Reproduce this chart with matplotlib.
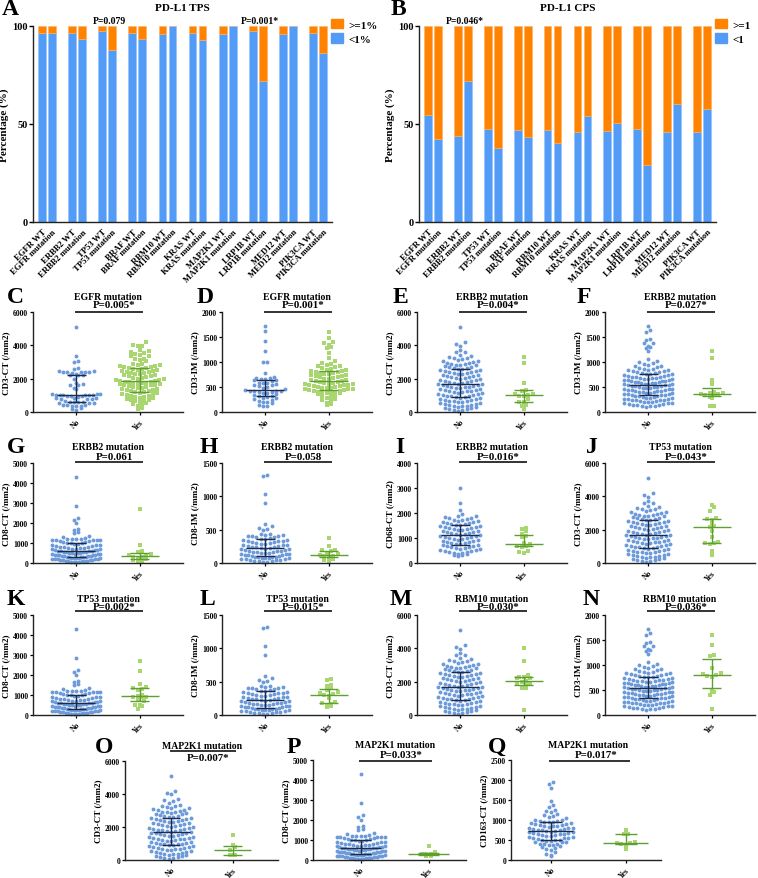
import numpy as np
import matplotlib
matplotlib.use('Agg')
import matplotlib.pyplot as plt
from matplotlib.patches import Patch
import matplotlib.transforms as mtrans

plt.rcParams['font.family'] = ['Liberation Serif', 'DejaVu Serif']
plt.rcParams['font.weight'] = 'bold'
plt.rcParams['axes.labelweight'] = 'bold'

# ---------------- data: stacked bars ----------------
genes = ['EGFR', 'ERBB2', 'TP53', 'BRAF', 'RBM10', 'KRAS', 'MAP2K1', 'LRP1B', 'MED12', 'PIK3CA']
states = ['WT', 'mutation']
bar_labels = [f'{g} {s}' for g in genes for s in states]
tps_below1 = [96.6, 96.3, 96.6, 93.5, 97.6, 87.9, 96.6, 93.5, 95.7, 100,
              96.6, 92.9, 96.1, 100, 97.6, 71.9, 96.1, 100, 96.6, 86.4]
cps_below1 = [54.4, 42.2, 43.7, 71.9, 47.6, 37.8, 46.8, 43.4, 47.1, 40.5,
              45.9, 54.1, 46.3, 50.3, 47.6, 28.9, 45.9, 60.4, 45.9, 57.5]

# ---------------- data: scatter groups ----------------
egfr_cd3ct_no = [5080, 3350, 3060, 3030, 2640, 2580, 2460, 2450, 2430, 2410, 2400, 2390, 2380, 2360,
                 2280, 2250, 2220, 2200, 1980, 1720, 1680, 1650, 1600, 1420, 1380, 1100, 1080, 1060,
                 1050, 1040, 1030, 1020, 1010, 1000, 980, 960, 940, 880, 860, 840, 820, 800, 780, 760,
                 640, 620, 610, 600, 580, 560, 540, 520, 440, 420, 400, 380, 360, 340, 220, 180, 150]
egfr_cd3ct_yes = [4180, 4040, 3990, 3950, 3700, 3640, 3590, 3560, 3470, 3430, 3380, 3350, 3210, 3180,
                  3120, 3080, 2900, 2870, 2840, 2810, 2790, 2760, 2730, 2700, 2660, 2630, 2600, 2570,
                  2540, 2510, 2480, 2450, 2420, 2380, 2350, 2320, 2290, 2260, 2230, 2200, 2170, 2140,
                  2110, 2060, 2030, 2000, 1970, 1940, 1910, 1880, 1850, 1820, 1790, 1780, 1760, 1740,
                  1720, 1700, 1680, 1660, 1640, 1620, 1600, 1560, 1530, 1500, 1470, 1440, 1410, 1380,
                  1350, 1320, 1270, 1240, 1210, 1180, 1150, 1120, 1090, 1060, 1000, 970, 940, 910,
                  880, 850, 820, 790, 730, 700, 670, 640, 610, 550, 480, 450, 390, 260, 170]
egfr_cd3im_no = [1720, 1630, 1430, 1220, 1010, 1000, 790, 700, 690, 680, 670, 660, 650, 640, 630,
                 590, 580, 575, 560, 550, 540, 520, 500, 480, 460, 440, 430, 425, 420, 415, 410,
                 400, 390, 380, 360, 340, 330, 320, 300, 290, 280, 260, 240, 220, 210, 200, 180,
                 150, 130, 120]
egfr_cd3im_yes = [1600, 1480, 1400, 1380, 1340, 1310, 1290, 1180, 1080, 1020, 990, 960, 950, 930,
                  920, 900, 880, 860, 850, 840, 830, 820, 810, 800, 790, 775, 765, 755, 745, 735,
                  725, 715, 705, 695, 680, 670, 660, 650, 640, 630, 620, 610, 600, 590, 578, 570,
                  562, 555, 548, 540, 532, 525, 518, 510, 498, 490, 482, 475, 468, 460, 452, 445,
                  438, 430, 418, 410, 402, 395, 388, 380, 372, 365, 350, 330, 310, 290, 265, 245,
                  225, 190, 160, 140]

cd3ct_no = [5100, 4180, 4060, 3990, 3700, 3620, 3580, 3430, 3360, 3290, 3270,
            3240, 3170, 3130, 3090, 3050, 3010,
            2960, 2930, 2900, 2880, 2850, 2830, 2810, 2780,
            2720, 2690, 2650, 2620, 2590, 2560, 2530, 2500, 2470, 2440,
            2410, 2380, 2350, 2320, 2290, 2260, 2230, 2200, 2170, 2140, 2110,
            2080, 2050, 2020, 1990, 1960, 1930, 1900, 1870, 1840, 1810, 1790,
            1770, 1740, 1710, 1690, 1660, 1640, 1610, 1590, 1560, 1530, 1510,
            1480, 1450, 1420, 1390, 1360, 1330, 1300, 1280, 1260, 1240, 1210,
            1180, 1150, 1120, 1090, 1060, 1030, 1000, 980, 960, 940, 910,
            880, 850, 820, 790, 760, 730, 700, 680, 660, 640, 610,
            580, 550, 520, 490, 460, 430, 400, 380, 360, 340, 310,
            280, 250, 220, 190, 160, 130, 110, 90]
cd3im_no = [1720, 1640, 1600, 1470, 1440, 1390, 1380, 1330, 1310, 1290, 1220, 1060, 1030, 1010, 990,
            960, 945, 930, 915, 900, 880, 870, 862, 850, 843, 832, 820, 812, 800,
            792, 784, 776, 768, 760, 752, 745, 738, 730,
            715, 708, 700, 694, 688, 680, 674, 668, 661, 655, 650, 645,
            635, 628, 621, 614, 608, 600, 594, 588, 582, 576, 570, 565, 560,
            552, 545, 538, 531, 524, 518, 511, 505, 498, 492, 486, 480, 475,
            466, 459, 452, 446, 440, 433, 426, 420, 414, 408, 402, 396, 390,
            380, 373, 366, 360, 354, 347, 340, 334, 328, 322, 316, 310,
            298, 290, 283, 276, 270, 263, 256, 250, 244, 238, 232,
            220, 212, 205, 198, 192, 186, 180, 174, 168, 160,
            150, 142, 135, 128, 120, 112, 105]
cd8ct_no = [4300, 2870, 2250, 2140, 1990, 1700, 1650, 1540, 1490, 1330, 1300, 1260,
            1220, 1200, 1190, 1180, 1170, 1160, 1150, 1140, 1130, 1120, 1110,
            1060, 1040, 1020, 1000, 980, 960, 940, 920, 900, 880, 860,
            830, 815, 800, 785, 770, 755, 740, 725, 710, 695, 680, 665, 650,
            630, 618, 606, 594, 582, 570, 558, 546, 534, 522, 510, 498, 486, 474,
            455, 444, 433, 422, 411, 400, 389, 378, 367, 356, 345, 334, 323, 312,
            298, 288, 278, 268, 258, 248, 238, 228, 218, 208, 198, 188, 178, 168,
            150, 140, 130, 120, 110, 100, 90, 80, 70, 60, 50, 40]
cd8im_no = [1320, 1300, 1030, 900, 590, 550, 520, 510, 500,
            440, 432, 425, 418, 410, 404, 398, 392, 386, 380,
            365, 358, 351, 344, 337, 330, 323, 316, 309, 302,
            295, 289, 283, 277, 271, 265, 259, 253, 247, 241, 235,
            228, 222, 216, 210, 204, 198, 192, 186, 180, 174, 168,
            163, 158, 153, 148, 143, 138, 133, 128, 123, 118, 113, 108,
            100, 96, 92, 88, 84, 80, 76, 72, 68, 64, 60, 56,
            50, 45, 40, 35, 30, 25, 20, 15]
cd68ct_no = [3020, 2420, 2120, 1950, 1900, 1870, 1850, 1810, 1790,
             1760, 1740, 1720, 1700, 1680, 1660, 1640, 1620, 1600, 1580,
             1560, 1540, 1520, 1500, 1480, 1460, 1440, 1420, 1400, 1380, 1360,
             1340, 1320, 1300, 1280, 1260, 1240, 1220, 1200, 1180, 1160,
             1140, 1120, 1100, 1080, 1060, 1040, 1020, 1000, 980, 960,
             940, 920, 900, 880, 860, 840, 820, 800, 780, 760,
             740, 720, 700, 680, 660, 640, 620, 600, 580,
             560, 540, 520, 500, 480, 460, 440, 420, 400,
             380, 360, 340, 320, 300]
cd163ct_no = [1960, 1900, 1800, 1480, 1380, 1330, 1260, 1230, 1200, 1150, 1120, 1090, 1070, 1050,
              1000, 990, 980, 970, 960, 950, 940, 930, 920,
              900, 890, 880, 870, 860, 850, 840, 830,
              810, 800, 790, 780, 770, 760, 750, 740, 730, 720,
              710, 700, 690, 680, 670, 660, 650, 640, 630,
              620, 600, 590, 580, 570, 560, 550, 540, 530,
              510, 500, 490, 480, 470, 460, 450, 440,
              410, 400, 390, 380, 370, 350,
              320, 300, 280, 260, 200, 150, 120, 100]

erbb2_cd3ct_yes = [3330, 2930, 1720, 1350, 1280, 1110, 1080, 1020, 980, 950, 800, 620, 580, 420, 380, 200]
erbb2_cd3im_yes = [1220, 1075, 650, 560, 410, 390, 375, 365, 360, 350, 340, 300, 280, 130, 115]
erbb2_cd8ct_yes = [2700, 900, 600, 550, 450, 400, 350, 320, 300, 250, 200, 150, 120, 100]
erbb2_cd8im_yes = [370, 260, 200, 190, 180, 150, 130, 120, 110, 100, 80, 60, 50, 20]
erbb2_cd68ct_yes = [1400, 1350, 1300, 1150, 1100, 1050, 800, 750, 700, 700, 650, 500, 450, 400]
tp53_cd3ct_yes = [3480, 3350, 3150, 2700, 2650, 2600, 2350, 2200, 2150, 1900, 1550, 1250, 1200, 1180, 1150, 750, 500]
tp53_cd8ct_yes = [2680, 2220, 1550, 1400, 1350, 1300, 1250, 1000, 960, 920, 900, 880, 750, 700, 500, 480, 450, 280]
tp53_cd8im_yes = [540, 520, 450, 430, 400, 380, 350, 330, 310, 300, 290, 260, 200, 180, 170, 150, 130, 120]
rbm10_cd3ct_yes = [4000, 3250, 2420, 2300, 2280, 2250, 2200, 2050, 2000, 1950, 1900, 1850, 1700, 1650, 1600, 300]
rbm10_cd3im_yes = [1600, 1400, 1200, 1190, 950, 840, 820, 800, 780, 760, 480, 460, 400, 130]
map2k1_cd3ct_yes = [1500, 880, 800, 600, 320, 300, 280]
map2k1_cd8ct_yes = [690, 420, 320, 300, 280, 220, 200]
map2k1_cd163ct_yes = [750, 660, 640, 440, 430, 420, 410, 370, 280]

# ---------------- style ----------------
W, H = 758, 879
ORANGE = '#FF8200'
BLUE = '#529CF8'
PT_BLUE = '#6D9BD9'
PT_GREEN = '#AAD672'
LN_NO = '#1E2A4A'
LN_YES = '#5E9F34'

fig = plt.figure(figsize=(W / 100, H / 100), dpi=100)


def add_ax(l, t, w, h):
    return fig.add_axes([l / W, 1 - (t + h) / H, w / W, h / H])


def style(ax):
    for s in ('top', 'right'):
        ax.spines[s].set_visible(False)
    for s in ('left', 'bottom'):
        ax.spines[s].set_linewidth(1.0)
        ax.spines[s].set_color('#222222')


def bar_panel(ax, low, title, lab_hi, lab_lo, ptexts):
    x = np.array([3 * i + j for i in range(len(genes)) for j in range(2)])
    low = np.asarray(low, float)
    ax.bar(x, low, width=0.78, color=BLUE, edgecolor='#8FC0FF', linewidth=0.4)
    ax.bar(x, 100 - low, bottom=low, width=0.78, color=ORANGE, edgecolor='#FFB060', linewidth=0.4)
    ax.set_xlim(-0.9, 28.9)
    ax.set_ylim(0, 100)
    ax.set_yticks([0, 50, 100])
    ax.set_xticks(x)
    ax.set_xticklabels(bar_labels, rotation=45, ha='right', rotation_mode='anchor', fontsize=6.2)
    ax.tick_params(axis='y', labelsize=7.5, length=3, width=1, pad=1)
    ax.tick_params(axis='x', length=0, pad=4)
    ax.set_ylabel('Percentage (%)', fontsize=8, labelpad=2)
    style(ax)
    ax.text(0.5, 1.095, title, transform=ax.transAxes, ha='center', va='center', fontsize=8)
    tr = mtrans.blended_transform_factory(ax.transData, ax.transAxes)
    for gi, t in ptexts:
        ax.text(3 * gi + 0.5 + 0.2, 1.027, t, transform=tr, ha='center', va='center', fontsize=7)
    handles = [Patch(color=ORANGE, label=lab_hi), Patch(color=BLUE, label=lab_lo)]
    ax.legend(handles=handles, loc='upper left', bbox_to_anchor=(0.995, 1.035), frameon=False,
              fontsize=8, handlelength=1.1, handleheight=0.9, handletextpad=0.5,
              borderaxespad=0, labelspacing=0.35, borderpad=0)


axA = add_ax(33, 27, 299, 196)
bar_panel(axA, tps_below1, 'PD-L1 TPS', '>=1%', '<1%', [(2, 'P=0.079'), (7, 'P=0.001*')])
axB = add_ax(419, 27, 297, 196)
bar_panel(axB, cps_below1, 'PD-L1 CPS', '>=1', '<1', [(1, 'P=0.046*')])


def swarm(vals, center, binh, dx, maxhalf):
    vals = np.asarray(vals, float)
    bins = np.floor(vals / binh).astype(int)
    xs = np.empty_like(vals)
    for b in np.unique(bins):
        idx = np.where(bins == b)[0]
        idx = idx[np.argsort(vals[idx], kind='stable')]
        n = len(idx)
        step = dx
        if n > 1 and (n - 1) / 2 * dx > maxhalf:
            step = maxhalf / ((n - 1) / 2)
        offs = (np.arange(n) - (n - 1) / 2) * step
        offs = offs[np.argsort(np.abs(offs), kind='stable')]
        xs[idx] = center + offs
    return xs


def scatter_panel(ax, no, yes, ymax, ystep, ylabel, title, ptxt,
                  xlim=(0.32, 2.68), ty=1.16, py=1.07, ly=1.0):
    ax.set_xlim(*xlim)
    ax.set_ylim(0, ymax)
    bb = ax.get_position()
    wpx, hpx = bb.width * W, bb.height * H
    ux = wpx / (xlim[1] - xlim[0])
    uy = hpx / ymax
    msz = 3.9
    binh = 4.7 / uy
    dx = 4.4 / ux
    maxhalf = 24.0 / ux
    xn = swarm(no, 1, binh, dx, maxhalf)
    xy = swarm(yes, 2, binh, dx, maxhalf)
    s = (msz * 0.72) ** 2
    ax.scatter(xn, no, s=s, marker='o', color=PT_BLUE, linewidths=0, zorder=2, clip_on=False)
    ax.scatter(xy, yes, s=s * 0.95, marker='s', color=PT_GREEN, linewidths=0, zorder=2, clip_on=False)
    for c, v, col in ((1, no, LN_NO), (2, yes, LN_YES)):
        q1, med, q3 = np.percentile(v, [25, 50, 75])
        ax.hlines(med, c - 0.3, c + 0.3, color=col, lw=1.0, zorder=3)
        ax.hlines([q1, q3], c - 0.15, c + 0.15, color=col, lw=1.0, zorder=3)
        ax.vlines(c, q1, q3, color=col, lw=1.0, zorder=3)
    ax.set_yticks(np.arange(0, ymax + 1, ystep))
    ax.set_xticks([1, 2])
    ax.set_xticklabels(['No', 'Yes'], rotation=45, ha='right', rotation_mode='anchor', fontsize=5.5)
    ax.tick_params(axis='y', labelsize=5.5, length=2.5, width=0.9, pad=1)
    ax.tick_params(axis='x', length=2.5, width=0.9, pad=1.5)
    ax.set_ylabel(ylabel, fontsize=6.5, labelpad=2)
    style(ax)
    tr = mtrans.blended_transform_factory(ax.transData, ax.transAxes)
    ax.text(1.5, ty, title, transform=tr, ha='center', va='center', fontsize=7)
    ax.text(1.6, py, ptxt, transform=tr, ha='center', va='center', fontsize=7.8)
    ax.plot([0.98, 2.05], [ly, ly], transform=tr, color='#111111', lw=1.2, clip_on=False,
            solid_capstyle='butt')


cols = [33, 222, 417, 605]
rows = [313, 464, 616]
SW, SH = 150, 100

panels = [
    ('C', 0, 0, egfr_cd3ct_no, egfr_cd3ct_yes, 6000, 2000, 'CD3-CT (/mm2)', 'EGFR mutation', 'P=0.005*'),
    ('D', 0, 1, egfr_cd3im_no, egfr_cd3im_yes, 2000, 500, 'CD3-IM (/mm2)', 'EGFR mutation', 'P=0.001*'),
    ('E', 0, 2, cd3ct_no, erbb2_cd3ct_yes, 6000, 2000, 'CD3-CT (/mm2)', 'ERBB2 mutation', 'P=0.004*'),
    ('F', 0, 3, cd3im_no, erbb2_cd3im_yes, 2000, 500, 'CD3-IM (/mm2)', 'ERBB2 mutation', 'P=0.027*'),
    ('G', 1, 0, cd8ct_no, erbb2_cd8ct_yes, 5000, 1000, 'CD8-CT (/mm2)', 'ERBB2 mutation', 'P=0.061'),
    ('H', 1, 1, cd8im_no, erbb2_cd8im_yes, 1500, 500, 'CD8-IM (/mm2)', 'ERBB2 mutation', 'P=0.058'),
    ('I', 1, 2, cd68ct_no, erbb2_cd68ct_yes, 4000, 1000, 'CD68-CT (/mm2)', 'ERBB2 mutation', 'P=0.016*'),
    ('J', 1, 3, cd3ct_no, tp53_cd3ct_yes, 6000, 2000, 'CD3-CT (/mm2)', 'TP53 mutation', 'P=0.043*'),
    ('K', 2, 0, cd8ct_no, tp53_cd8ct_yes, 5000, 1000, 'CD8-CT (/mm2)', 'TP53 mutation', 'P=0.002*'),
    ('L', 2, 1, cd8im_no, tp53_cd8im_yes, 1500, 500, 'CD8-IM (/mm2)', 'TP53 mutation', 'P=0.015*'),
    ('M', 2, 2, cd3ct_no, rbm10_cd3ct_yes, 6000, 2000, 'CD3-CT (/mm2)', 'RBM10 mutation', 'P=0.030*'),
    ('N', 2, 3, cd3im_no, rbm10_cd3im_yes, 2000, 500, 'CD3-IM (/mm2)', 'RBM10 mutation', 'P=0.036*'),
]
letter_pos = {'C': (7, 303), 'D': (197, 303), 'E': (393, 303), 'F': (577, 303),
              'G': (7, 453), 'H': (200, 453), 'I': (395, 453), 'J': (586, 453),
              'K': (7, 605), 'L': (200, 605), 'M': (390, 605), 'N': (583, 605),
              'O': (95, 753), 'P': (287, 753), 'Q': (488, 753),
              'A': (2, 15), 'B': (391, 15)}

for let, r, c, no, yes, ymax, ystep, yl, ti, pt in panels:
    ax = add_ax(cols[c], rows[r], SW, SH)
    if r == 0:
        kw = dict(ty=1.16, py=1.07, ly=1.0)
    elif r == 1:
        kw = dict(ty=1.16, py=1.06, ly=1.01)
    else:
        kw = dict(ty=1.16, py=1.08, ly=1.04)
    scatter_panel(ax, no, yes, ymax, ystep, yl, ti, pt, **kw)

axO = add_ax(125, 762, 153, 99)
scatter_panel(axO, cd3ct_no, map2k1_cd3ct_yes, 6000, 2000, 'CD3-CT (/mm2)', 'MAP2K1 mutation',
              'P=0.007*', xlim=(0.25, 2.74), ty=1.16, py=1.04, ly=1.10)
axP = add_ax(313, 761, 153, 100)
scatter_panel(axP, cd8ct_no, map2k1_cd8ct_yes, 5000, 1000, 'CD8-CT (/mm2)', 'MAP2K1 mutation',
              'P=0.033*', xlim=(0.3, 2.55), ty=1.15, py=1.05, ly=0.99)
axQ = add_ax(511, 761, 150, 100)
scatter_panel(axQ, cd163ct_no, map2k1_cd163ct_yes, 2500, 500, 'CD163-CT (/mm2)', 'MAP2K1 mutation',
              'P=0.017*', xlim=(0.47, 2.47), ty=1.15, py=1.05, ly=0.99)

for let, (x, y) in letter_pos.items():
    fig.text(x / W, 1 - y / H, let, fontsize=17, fontweight='bold', ha='left', va='baseline')

fig.savefig('out.png', dpi=100)
